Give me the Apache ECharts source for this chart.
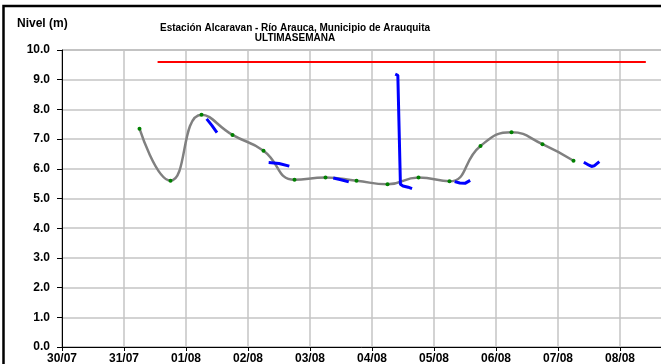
<!DOCTYPE html>
<html>
<head>
<meta charset="utf-8">
<script src="https://cdn.jsdelivr.net/npm/echarts@6/dist/echarts.min.js"></script>
<style>
  html, body { margin: 0; padding: 0; background: #fff; }
  #chart { width: 661px; height: 364px; }
</style>
</head>
<body>
<div id="chart"></div>
<script>
  // tick labels of the x axis (one per day, starting 30/07)
  const tickLabels = ['30/07', '31/07', '01/08', '02/08', '03/08', '04/08', '05/08', '06/08', '07/08', '08/08', '09/08']

  // gray curve (12 h readings)
  const grayTimes = ['31/07 06:00', '31/07 18:00', '01/08 06:00', '01/08 18:00', '02/08 06:00', '02/08 18:00',
    '03/08 06:00', '03/08 18:00', '04/08 06:00', '04/08 18:00', '05/08 06:00', '05/08 18:00',
    '06/08 06:00', '06/08 18:00', '07/08 06:00']
  const grayValues = [7.35, 5.60, 7.82, 7.14, 6.61, 5.63, 5.71, 5.60, 5.48, 5.71, 5.58, 6.77, 7.23, 6.83, 6.27]

  // blue readings, null = gap
  const blueTimes = ['01/08 08:00', '01/08 10:00', '01/08 12:00', '01/08 13:00',
    '02/08 08:00', '02/08 12:00', '02/08 16:00', '02/08 17:00',
    '03/08 09:00', '03/08 12:00', '03/08 15:00', '03/08 16:00',
    '04/08 09:00', '04/08 10:00', '04/08 11:00', '04/08 12:00', '04/08 14:00', '04/08 15:30', '04/08 16:00',
    '05/08 08:00', '05/08 10:00', '05/08 12:00', '05/08 14:00', '05/08 15:00',
    '07/08 10:00', '07/08 12:00', '07/08 13:00', '07/08 14:00', '07/08 16:00']
  const blueValues = [7.68, 7.46, 7.22, null,
    6.21, 6.18, 6.09, null,
    5.69, 5.63, 5.56, null,
    9.19, 9.15, 5.48, 5.42, 5.38, 5.33, null,
    5.57, 5.52, 5.51, 5.61, null,
    6.22, 6.12, 6.08, 6.10, 6.24]

  // threshold line
  const redTimes = ['31/07 13:00', '08/08 10:00']
  const redValues = [9.6, 9.6]

  // 'dd/mm hh:mm' -> days since 30/07 00:00
  function toDay(s) {
    const [d, t] = s.split(' ')
    const [dd, mm] = d.split('/').map(Number)
    const [h, m] = t.split(':').map(Number)
    const day = mm === 7 ? dd - 30 : dd + 1
    return day + h / 24 + m / 1440
  }
  const pairs = (times, vals) => times.map((t, i) => [toDay(t), vals[i]])

  const font = 'Liberation Sans, Arial, sans-serif'
  const chart = echarts.init(document.getElementById('chart'))
  chart.setOption({
    animation: false,
    backgroundColor: '#fff',
    title: {
      text: '{b|Estación Alcaravan - Río Arauca,}{n| Municipio de Arauquita}\n{b|ULTIMASEMANA}',
      left: 290,
      top: 18,
      textAlign: 'center',
      textStyle: {
        rich: {
          b: { fontFamily: font, fontWeight: 'bold', fontSize: 10, color: '#000', lineHeight: 10 },
          n: { fontFamily: font, fontSize: 10, color: '#000', lineHeight: 10 }
        }
      }
    },
    graphic: [{
      type: 'rect',
      shape: { x: 3.5, y: 6, width: 700, height: 400 },
      style: { fill: 'none', stroke: '#000', lineWidth: 2.5 }
    }, {
      type: 'text',
      left: 17,
      top: 18,
      style: { text: 'Nivel (m)', font: 'bold 12px ' + font, fill: '#000' }
    }],
    grid: {
      left: 62,
      top: 50,
      width: 620,
      height: 297,
      outerBoundsMode: 'none',
      show: true,
      borderColor: '#808080',
      borderWidth: 1
    },
    xAxis: {
      type: 'value',
      min: 0,
      max: 10,
      interval: 1,
      axisLine: { lineStyle: { color: '#000', width: 1 } },
      axisTick: { show: true, length: 4, lineStyle: { color: '#000' } },
      axisLabel: {
        margin: 6,
        fontFamily: font,
        fontWeight: 'bold',
        fontSize: 12,
        color: '#000',
        formatter: v => (v < 10 ? tickLabels[v] : '')
      },
      splitLine: { show: true, lineStyle: { color: '#c4c4c4', width: 1.5 } }
    },
    yAxis: {
      type: 'value',
      min: 0,
      max: 10,
      interval: 1,
      axisLine: { show: true, lineStyle: { color: '#000', width: 1 } },
      axisTick: { show: true, length: 5, lineStyle: { color: '#000' } },
      axisLabel: {
        margin: 12,
        fontFamily: font,
        fontWeight: 'bold',
        fontSize: 12,
        color: '#000',
        formatter: v => v.toFixed(1)
      },
      splitLine: { show: true, lineStyle: { color: '#c4c4c4', width: 1.5 } }
    },
    series: [{
      type: 'line',
      data: pairs(redTimes, redValues),
      showSymbol: false,
      lineStyle: { color: '#ff0000', width: 2 }
    }, {
      type: 'line',
      data: pairs(grayTimes, grayValues),
      smooth: 0.5,
      symbol: 'circle',
      symbolSize: 4,
      itemStyle: { color: '#008000' },
      lineStyle: { color: '#808080', width: 2.5 }
    }, {
      type: 'line',
      data: pairs(blueTimes, blueValues),
      showSymbol: false,
      connectNulls: false,
      lineStyle: { color: '#0000ff', width: 3 }
    }]
  })
</script>
</body>
</html>
